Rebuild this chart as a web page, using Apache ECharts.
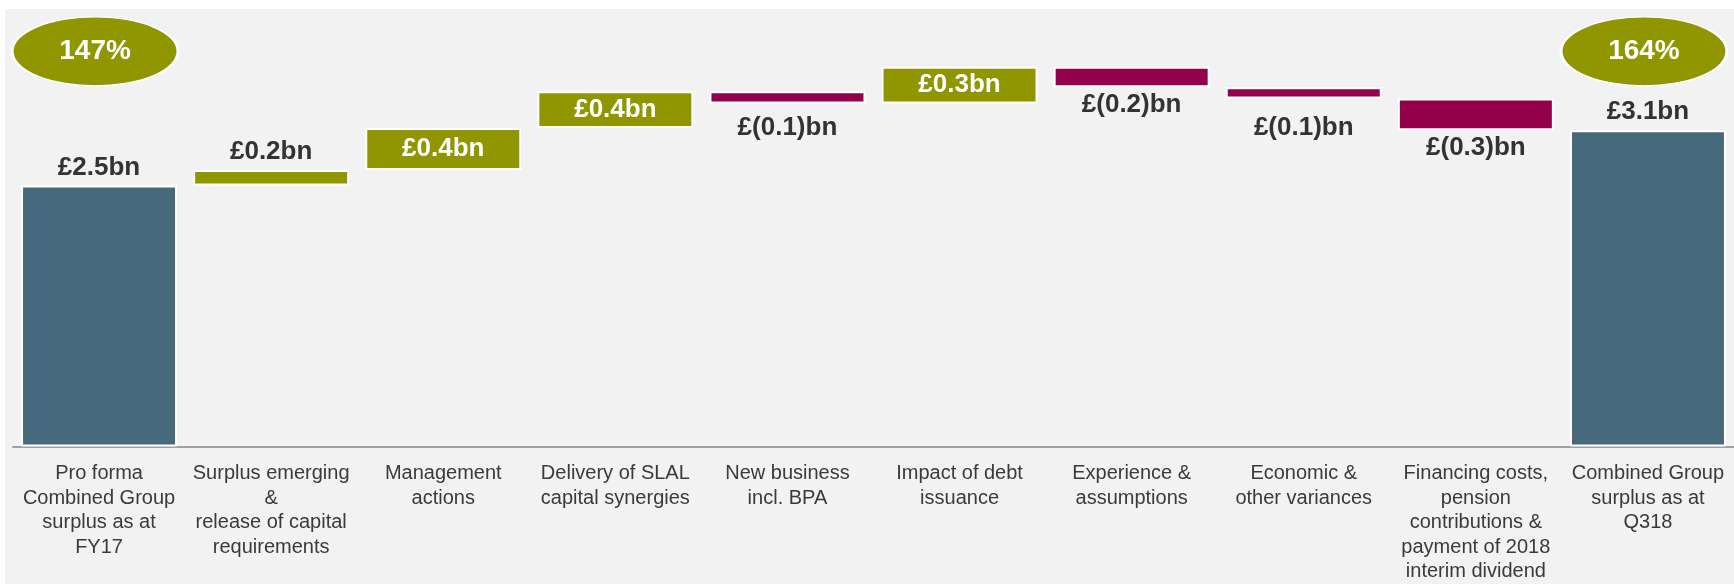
<!DOCTYPE html>
<html>
<head>
<meta charset="utf-8">
<script src="https://cdn.jsdelivr.net/npm/echarts@6/dist/echarts.min.js"></script>
<style>
    html, body { margin: 0; padding: 0; background: #fff; }
    #chart {
        width: 1734px;
        height: 584px;
        /* white strip along top and left edge, grey panel elsewhere */
        background:
            linear-gradient(#fff, #fff) top left / 100% 9px no-repeat,
            linear-gradient(#fff, #fff) top left / 5px 100% no-repeat,
            #f2f2f2;
    }
</style>
</head>
<body>
<div id="chart"></div>
<script>
    // ---- data (£bn) ----
    const categories = [
        "Pro forma\nCombined Group\nsurplus as at\nFY17",
        "Surplus emerging\n&\nrelease of capital\nrequirements",
        "Management\nactions",
        "Delivery of SLAL\ncapital synergies",
        "New business\nincl. BPA",
        "Impact of debt\nissuance",
        "Experience &\nassumptions",
        "Economic &\nother variances",
        "Financing costs,\npension\ncontributions &\npayment of 2018\ninterim dividend",
        "Combined Group\nsurplus as at\nQ318",
    ];
    const barKinds = ["total", "delta", "delta", "delta", "delta", "delta", "delta", "delta", "delta", "total"];
    const barValues = [2.55, 0.15, 0.41, 0.36, -0.12, 0.36, -0.20, -0.11, -0.31, 3.09];
    const valueLabels = ["£2.5bn", "£0.2bn", "£0.4bn", "£0.4bn", "£(0.1)bn", "£0.3bn", "£(0.2)bn", "£(0.1)bn", "£(0.3)bn", "£3.1bn"];
    const solvencyRatios = [147, 164];

    // ---- styles ----
    const FONT = "'Liberation Sans', Arial, sans-serif";
    const SLATE = "#46697b";
    const OLIVE = "#8f9600";
    const CRIMSON = "#93004b";
    const TEXT = "#333333";
    const BAR_W = 156;
    const RATIO_LEVEL = 3.86;          // height (in axis units) of the ratio bubbles
    const labelGap = { 4: 11, 7: 16 }; // a couple of labels sit lower in the original

    // waterfall: invisible base + visible step
    let running = 0;
    const baseData = [];
    const stepData = [];
    barValues.forEach((v, i) => {
        if (barKinds[i] === "total") {
            baseData.push(0);
            stepData.push(v);
            running = v;
        } else {
            baseData.push(v >= 0 ? running : running + v);
            stepData.push(Math.abs(v));
            running += v;
        }
    });

    function colorFor(i) {
        if (barKinds[i] === "total") return SLATE;
        return barValues[i] >= 0 ? OLIVE : CRIMSON;
    }

    function labelFor(i) {
        const v = barValues[i];
        if (barKinds[i] === "total" || (v > 0 && v < 0.25)) {
            return { position: "top", color: TEXT };
        }
        if (v > 0) return { position: "inside", color: "#fff" };
        return { position: "bottom", color: TEXT, distance: labelGap[i] || 5 };
    }

    const chart = echarts.init(document.getElementById("chart"), null, { renderer: "canvas" });

    const option = {
        animation: false,
        textStyle: { fontFamily: FONT },
        grid: { left: 13, right: -1, top: 37, bottom: 135 },
        xAxis: {
            type: "category",
            data: categories,
            axisLine: { lineStyle: { color: "#a0a0a0", width: 2 } },
            axisTick: { show: false },
            axisLabel: {
                interval: 0,
                margin: 15,
                fontSize: 20,
                lineHeight: 24.5,
                color: "#3a3a3a",
                fontFamily: FONT,
            },
        },
        yAxis: { type: "value", min: 0, max: 4, show: false },
        series: [
            {
                type: "bar",
                stack: "wf",
                barWidth: BAR_W,
                silent: true,
                itemStyle: { color: "transparent" },
                data: baseData,
            },
            {
                type: "bar",
                stack: "wf",
                barWidth: BAR_W,
                itemStyle: { borderColor: "#fff", borderWidth: 2 },
                label: {
                    show: true,
                    fontSize: 26,
                    fontWeight: "bold",
                    fontFamily: FONT,
                    formatter: (p) => valueLabels[p.dataIndex],
                },
                data: stepData.map((v, i) => ({
                    value: v,
                    itemStyle: { color: colorFor(i) },
                    label: labelFor(i),
                })),
                markPoint: {
                    symbol: "circle",
                    symbolSize: [166, 69],
                    symbolOffset: [-4, 0],
                    silent: true,
                    itemStyle: { color: OLIVE, borderColor: "#fff", borderWidth: 2 },
                    label: {
                        show: true,
                        position: "inside",
                        color: "#fff",
                        fontSize: 28,
                        fontWeight: "bold",
                        fontFamily: FONT,
                        formatter: (p) => p.value + "%",
                    },
                    data: solvencyRatios.map((r, k) => ({
                        coord: [k === 0 ? 0 : categories.length - 1, RATIO_LEVEL],
                        value: r,
                    })),
                },
            },
        ],
    };

    chart.setOption(option);
</script>
</body>
</html>
